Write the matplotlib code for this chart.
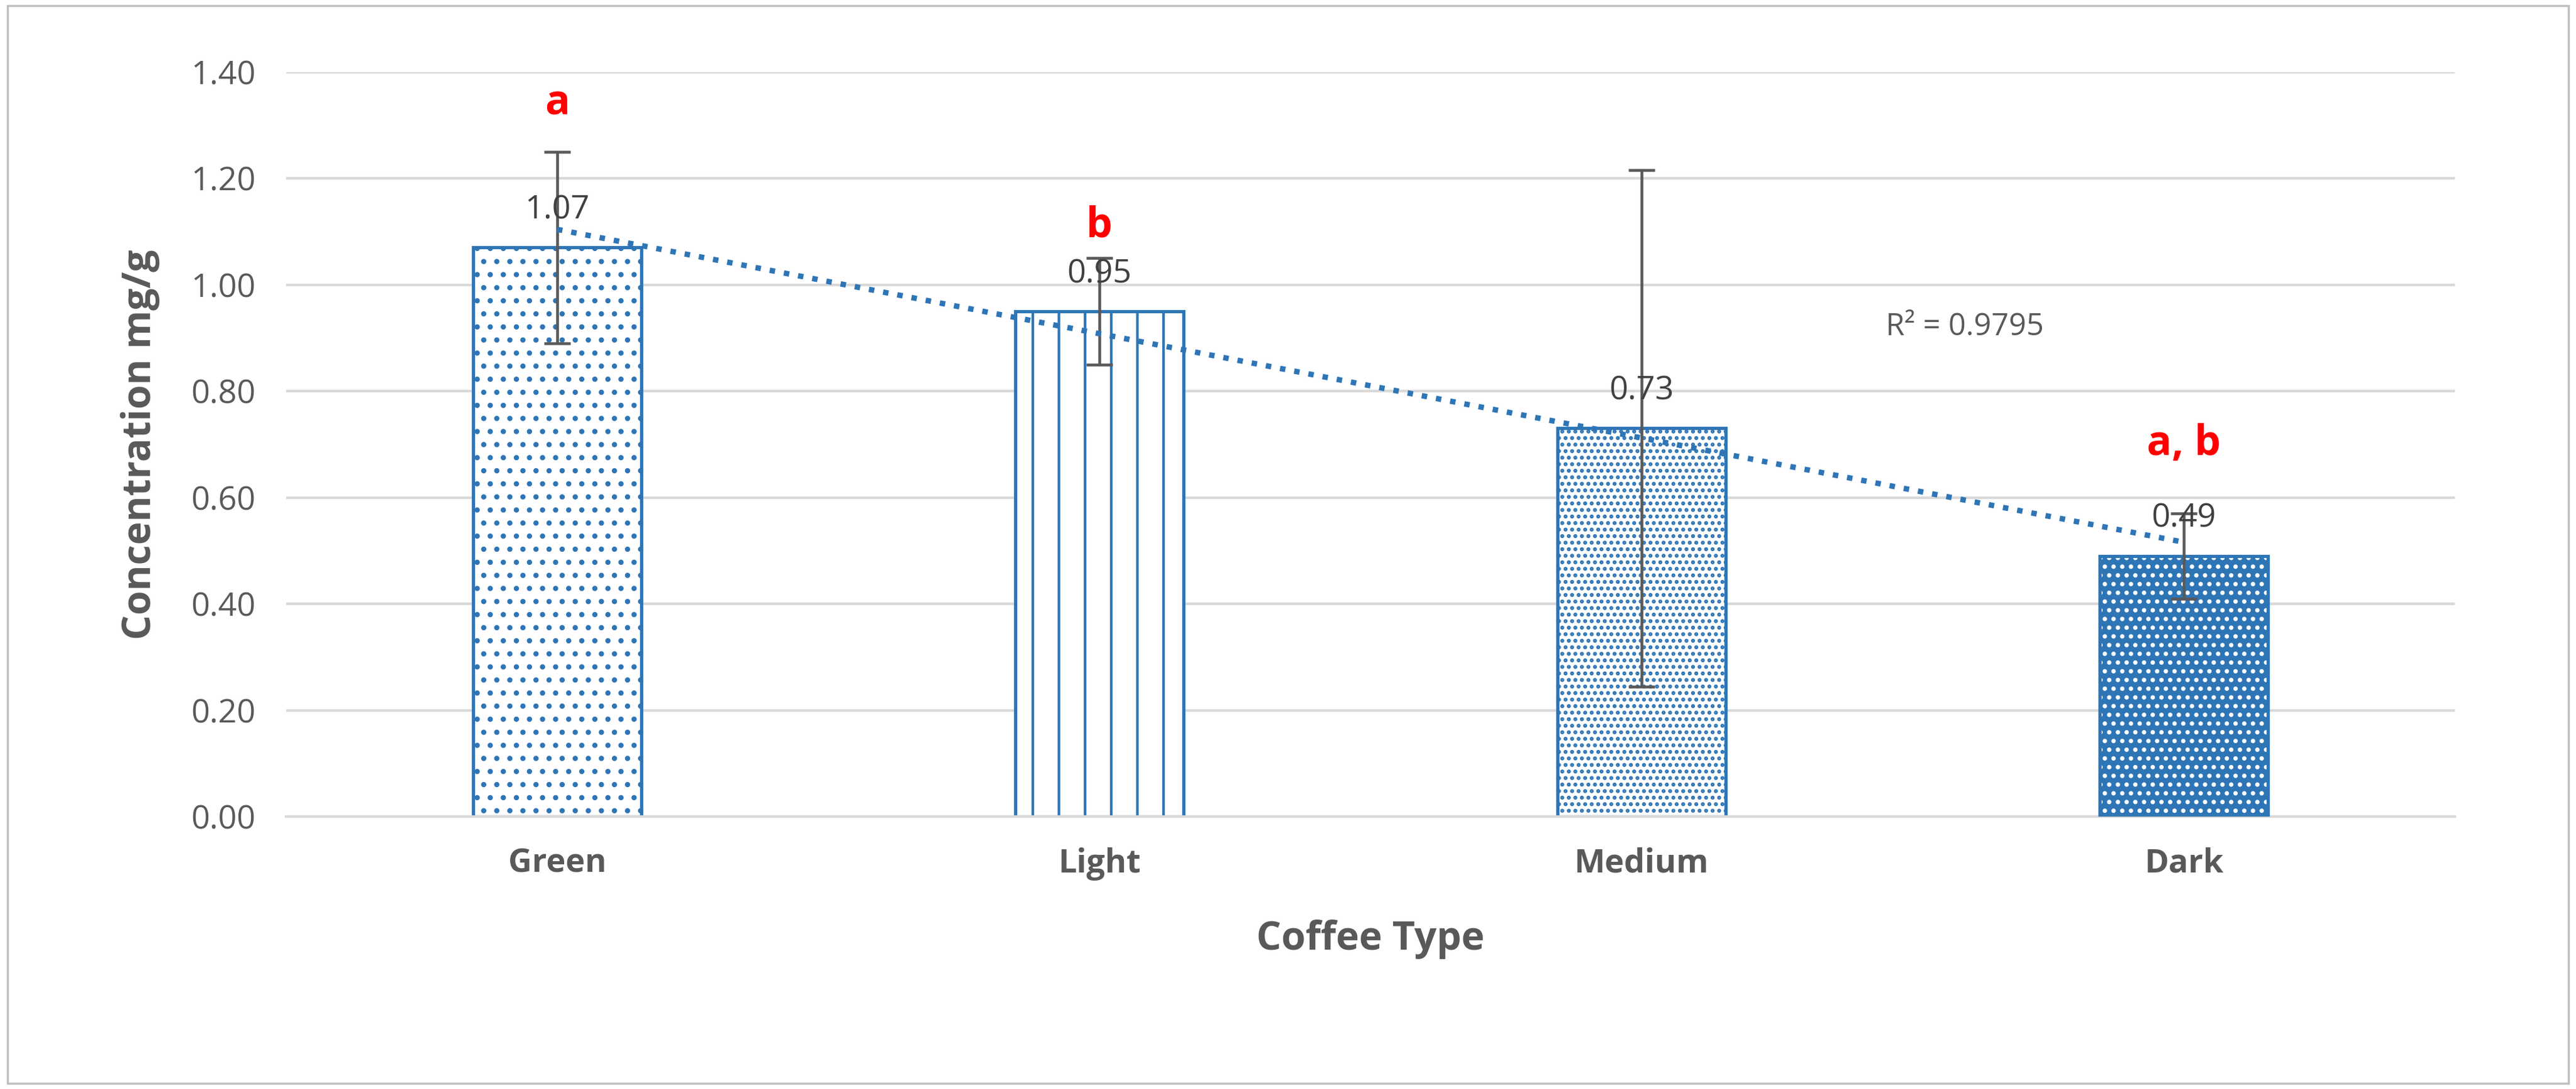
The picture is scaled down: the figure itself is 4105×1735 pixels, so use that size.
import numpy as np
import matplotlib.pyplot as plt
from matplotlib.patches import Rectangle

# data
coffee_types = ['Green', 'Light', 'Medium', 'Dark']
concentration = [1.07, 0.95, 0.73, 0.49]
errors = [0.18, 0.10, 0.485, 0.08]
letters = ['a', 'b', '', 'a, b']
letter_y = [1.34, 1.11, None, 0.70]
r2_label = 'R² = 0.9795'
hatches = ['..', '|', '....', '...']

blue = '#2E75B6'
grey = '#595959'
plt.rcParams['font.family'] = ['Open Sans', 'DejaVu Sans']
plt.rcParams['hatch.linewidth'] = 1.2

fig = plt.figure(figsize=(16.42, 6.94), dpi=250)
ax = fig.add_axes([0.111, 0.25, 0.842, 0.684])
fig.patches.append(Rectangle((0.003, 0.005), 0.994, 0.99, transform=fig.transFigure,
                             fill=False, edgecolor='#BFBFBF', linewidth=1))

x = np.arange(len(coffee_types))
for i, (xi, v) in enumerate(zip(x, concentration)):
    if i == 3:
        ax.bar(xi, v, width=0.31, color=blue, zorder=2)
        ax.bar(xi, v, width=0.31, facecolor='none', edgecolor='white', hatch=hatches[i],
               linewidth=0, zorder=3)
        ax.bar(xi, v, width=0.31, facecolor='none', edgecolor=blue, linewidth=1.5, zorder=4)
    else:
        ax.bar(xi, v, width=0.31, facecolor='white', edgecolor=blue, hatch=hatches[i],
               linewidth=1.5, zorder=2)

ax.errorbar(x, concentration, yerr=errors, fmt='none', ecolor=grey, capsize=6,
            elinewidth=1.3, capthick=1.3, zorder=5)

# linear trendline
coef = np.polyfit(x, concentration, 1)
fit = np.polyval(coef, x)
ax.plot(x, fit, linestyle=':', color=blue, linewidth=2.5, zorder=6)
ax.text(2.45, 0.92, r2_label, fontsize=14, color=grey, ha='left', va='center')

for xi, v in zip(x, concentration):
    ax.text(xi, v + 0.04, f'{v:.2f}', fontsize=15, color='#404040', ha='center', va='bottom', zorder=7)
for xi, lt, ly in zip(x, letters, letter_y):
    if lt:
        ax.text(xi, ly, lt, fontsize=19, color='red', fontweight='bold', ha='center', va='center')

ax.set_xlim(-0.5, 3.5)
ax.set_ylim(0, 1.40)
ax.set_yticks(np.arange(0, 1.41, 0.2))
ax.set_yticklabels([f'{t:.2f}' for t in np.arange(0, 1.41, 0.2)])
ax.set_xticks(x)
ax.set_xticklabels(coffee_types, fontweight='bold')
ax.tick_params(colors=grey, labelsize=15, length=0, pad=14)
ax.grid(axis='y', color='#D9D9D9', linewidth=1.2, zorder=0)
ax.set_axisbelow(True)
for s in ['top', 'right', 'left']:
    ax.spines[s].set_visible(False)
ax.spines['bottom'].set_color('#D9D9D9')
ax.spines['bottom'].set_linewidth(1.2)
ax.set_xlabel('Coffee Type', fontsize=18, fontweight='bold', color=grey, labelpad=18)
ax.set_ylabel('Concentration mg/g', fontsize=18, fontweight='bold', color=grey, labelpad=14)

fig.savefig('out.png', dpi=250)
